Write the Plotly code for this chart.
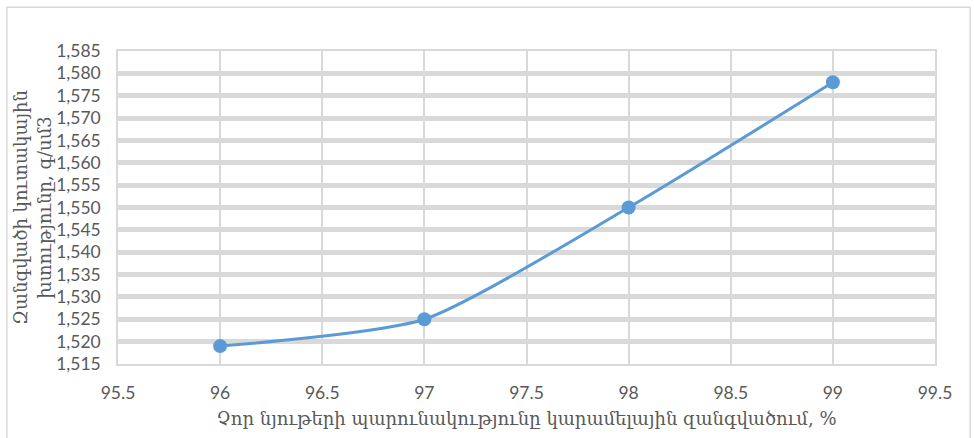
import plotly.graph_objects as go

x_vals = [96, 97, 98, 99]
y_vals = [1.519, 1.525, 1.550, 1.578]
y_ticks = [1.515, 1.520, 1.525, 1.530, 1.535, 1.540, 1.545, 1.550, 1.555, 1.560, 1.565, 1.570, 1.575, 1.580, 1.585]
y_ticktext = [f"{v:.3f}".replace(".", ",") for v in y_ticks]
x_ticks = [95.5, 96, 96.5, 97, 97.5, 98, 98.5, 99, 99.5]
x_title = "Չոր նյութերի պարունակությունը կարամելային զանգվածում, %"
y_title = "Զանգվածի կուտակային<br>խտությունը, գ/սմ3"

fig = go.Figure()
fig.add_trace(go.Scatter(
    x=x_vals, y=y_vals, mode="lines+markers",
    line=dict(color="#5b9bd5", width=3, shape="spline", smoothing=0.6),
    marker=dict(color="#5b9bd5", size=14),
    showlegend=False,
))

tick_font = dict(family="Lato, 'Liberation Sans', sans-serif", size=17.5, color="#595959")
title_font = dict(family="'DejaVu Serif', serif", size=18, color="#595959")

fig.update_layout(
    width=974, height=438,
    margin=dict(l=118, r=39, t=51, b=74),
    paper_bgcolor="white", plot_bgcolor="white",
    xaxis=dict(
        range=[95.5, 99.5], tickvals=x_ticks, ticktext=[str(v) for v in x_ticks],
        showgrid=True, gridcolor="#d9d9d9", gridwidth=1.5,
        zeroline=False, showline=True, linecolor="#d9d9d9", linewidth=1.5, mirror=True,
        tickfont=tick_font, ticks="", ticklabelstandoff=12,
        title=dict(text=x_title, font=title_font, standoff=11),
    ),
    yaxis=dict(
        range=[1.515, 1.585], tickvals=y_ticks, ticktext=y_ticktext,
        showgrid=True, gridcolor="#d9d9d9", gridwidth=5,
        zeroline=False, showline=True, linecolor="#d9d9d9", linewidth=1.5, mirror=True,
        tickfont=tick_font, ticks="", ticklabelstandoff=12,
        title=dict(text=y_title, font=title_font, standoff=0),
    ),
    shapes=[dict(type="rect", xref="paper", yref="paper",
                 x0=-0.136, x1=1.043, y0=-0.5, y1=1.14,
                 line=dict(color="#d9d9d9", width=1.5), fillcolor="rgba(0,0,0,0)", layer="below")],
)

fig.write_html("out.html")
